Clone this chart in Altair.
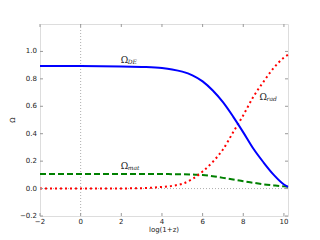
import altair as alt
import pandas as pd

x_vals = [-2, 0, 2, 3, 4, 4.5, 5, 5.5, 6, 6.5, 7, 7.5, 8, 8.5, 9, 9.5, 10, 10.2]
omega_de = [0.893, 0.893, 0.891, 0.887, 0.879, 0.869, 0.853, 0.826, 0.782, 0.715, 0.63, 0.525, 0.41, 0.29, 0.19, 0.10, 0.03, 0.013]
omega_rad = [0.0, 0.0, 0.001, 0.003, 0.012, 0.02, 0.035, 0.07, 0.125, 0.195, 0.285, 0.41, 0.535, 0.67, 0.78, 0.88, 0.955, 0.975]
omega_mat = [0.107, 0.107, 0.107, 0.107, 0.106, 0.105, 0.104, 0.102, 0.099, 0.09, 0.078, 0.066, 0.053, 0.042, 0.031, 0.023, 0.016, 0.014]

x_ticks = [-2, 0, 2, 4, 6, 8, 10]
x_tick_labels = ["\u22122", "0", "2", "4", "6", "8", "10"]
y_ticks = [-0.2, 0.0, 0.2, 0.4, 0.6, 0.8, 1.0]
y_tick_labels = ["\u22120.2", "0.0", "0.2", "0.4", "0.6", "0.8", "1.0"]

lab_x = [1.975, 8.80, 1.975]
lab_y = [0.94, 0.666, 0.168]
lab_sub = ["DE", "rad", "mat"]

W, H = 248, 192
FONT = "DejaVu Sans"
TXT = "#222"

xs = alt.Scale(domain=[-2, 10.2], nice=False, zero=False)
ys = alt.Scale(domain=[-0.2, 1.2], nice=False, zero=False)

df = pd.DataFrame({"x": x_vals, "de": omega_de, "rad": omega_rad, "mat": omega_mat})
base = alt.Chart(df)

de_line = base.mark_line(color="#0000ff", strokeWidth=2, interpolate="monotone").encode(
    x=alt.X("x:Q", scale=xs, axis=None), y=alt.Y("de:Q", scale=ys, axis=None))
mat_line = base.mark_line(color="#008000", strokeWidth=2, strokeDash=[6, 3], interpolate="monotone").encode(
    x=alt.X("x:Q", scale=xs, axis=None), y=alt.Y("mat:Q", scale=ys, axis=None))
rad_line = base.mark_line(color="#ff0000", strokeWidth=2, strokeDash=[2, 3], interpolate="monotone").encode(
    x=alt.X("x:Q", scale=xs, axis=None), y=alt.Y("rad:Q", scale=ys, axis=None))

zero_df = pd.DataFrame({"v": [0]})
vline = alt.Chart(zero_df).mark_rule(color="#999", strokeWidth=0.8, strokeDash=[1, 2]).encode(
    x=alt.X("v:Q", scale=xs, axis=None))
hline = alt.Chart(zero_df).mark_rule(color="#999", strokeWidth=0.8, strokeDash=[1, 2]).encode(
    y=alt.Y("v:Q", scale=ys, axis=None))

xt_df = pd.DataFrame({"t": x_ticks, "lab": x_tick_labels})
yt_df = pd.DataFrame({"t": y_ticks, "lab": y_tick_labels})
tick_col = "#999"
xt_bot = alt.Chart(xt_df).mark_rule(color=tick_col, strokeWidth=1).encode(
    x=alt.X("t:Q", scale=xs, axis=None), y=alt.value(H), y2=alt.value(H - 3))
xt_top = alt.Chart(xt_df).mark_rule(color=tick_col, strokeWidth=1).encode(
    x=alt.X("t:Q", scale=xs, axis=None), y=alt.value(0), y2=alt.value(3))
yt_left = alt.Chart(yt_df).mark_rule(color=tick_col, strokeWidth=1).encode(
    y=alt.Y("t:Q", scale=ys, axis=None), x=alt.value(0), x2=alt.value(3))
yt_right = alt.Chart(yt_df).mark_rule(color=tick_col, strokeWidth=1).encode(
    y=alt.Y("t:Q", scale=ys, axis=None), x=alt.value(W - 3), x2=alt.value(W))

xlab = alt.Chart(xt_df).mark_text(align="center", baseline="top", fontSize=7, font=FONT, color=TXT).encode(
    x=alt.X("t:Q", scale=xs, axis=None), y=alt.value(H + 2), text="lab:N")
ylab = alt.Chart(yt_df).mark_text(align="right", baseline="middle", fontSize=7, font=FONT, color=TXT).encode(
    y=alt.Y("t:Q", scale=ys, axis=None), x=alt.value(-3), text="lab:N")

xtitle = alt.Chart(zero_df).mark_text(text="log(1+z)", align="center", baseline="middle", fontSize=7,
                                      font=FONT, color=TXT).encode(x=alt.value(W / 2), y=alt.value(H + 14))
ytitle = alt.Chart(zero_df).mark_text(text="Ω", align="center", baseline="middle", fontSize=7, angle=270,
                                      font=FONT, color=TXT).encode(x=alt.value(-27), y=alt.value(H / 2))

lab_df = pd.DataFrame({"x": lab_x, "y": lab_y, "sub": lab_sub})
sym = alt.Chart(lab_df).mark_text(text="Ω", align="left", baseline="middle", fontSize=9,
                                   font="DejaVu Serif", color=TXT).encode(
    x=alt.X("x:Q", scale=xs, axis=None), y=alt.Y("y:Q", scale=ys, axis=None))
sub = alt.Chart(lab_df).mark_text(align="left", baseline="middle", fontSize=6, fontStyle="italic",
                                   font="DejaVu Serif", color=TXT, dx=7, dy=2).encode(
    x=alt.X("x:Q", scale=xs, axis=None), y=alt.Y("y:Q", scale=ys, axis=None), text="sub:N")

chart = alt.layer(vline, hline, mat_line, rad_line, de_line, xt_bot, xt_top, yt_left, yt_right,
                  xlab, ylab, xtitle, ytitle, sym, sub).properties(
    width=W, height=H,
    autosize=alt.AutoSizeParams(type="none"),
    padding={"left": 32, "top": 16, "right": 24, "bottom": 20},
).configure_view(stroke="#999", strokeWidth=2).configure(background="white")

chart.save("out.html", embed_options={"renderer": "svg", "actions": False})
